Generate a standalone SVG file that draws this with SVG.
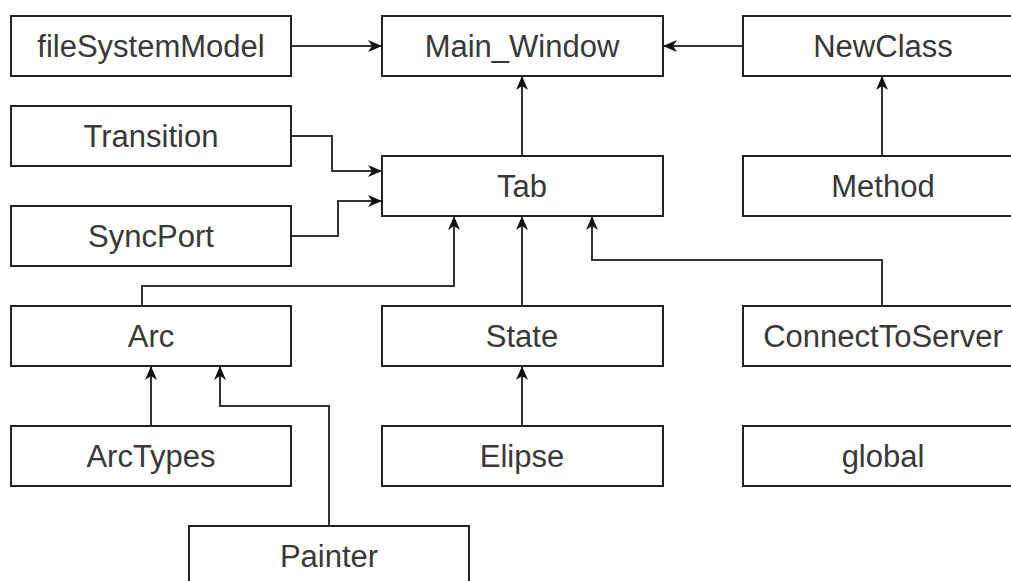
<svg xmlns="http://www.w3.org/2000/svg" width="1011" height="581" viewBox="0 0 1011 581">
<style>
.box rect{fill:#fff;stroke:#222;stroke-width:2}
.box text{font-family:"Liberation Sans",Arial,sans-serif;font-size:31px;fill:#383838;text-anchor:middle}
.edge{fill:none;stroke:#333;stroke-width:2;marker-end:url(#arr)}
</style>
<defs>
<marker id="arr" markerUnits="userSpaceOnUse" markerWidth="16" markerHeight="14" refX="15" refY="7" orient="auto">
<path d="M1,1 L15,7 L1,13 L5,7 Z" fill="#111"/>
</marker>
</defs>
<rect width="1011" height="581" fill="#fff"/>
<g id="connectors">
<path class="edge" d="M291,46 H382"/>
<path class="edge" d="M743,46 H663"/>
<path class="edge" d="M522,156 V76"/>
<path class="edge" d="M882,156 V76"/>
<path class="edge" d="M291,136 H332 V171 H382"/>
<path class="edge" d="M291,236 H338 V201 H382"/>
<path class="edge" d="M142,306 V286 H454 V216"/>
<path class="edge" d="M522,306 V216"/>
<path class="edge" d="M882,306 V260 H592 V216"/>
<path class="edge" d="M151,426 V366"/>
<path class="edge" d="M329,526 V406 H220 V366"/>
<path class="edge" d="M522,426 V366"/>
</g>
<g id="fileSystemModel" class="box"><rect x="11" y="16" width="280" height="60"/><text x="151" y="57">fileSystemModel</text></g>
<g id="Main_Window" class="box"><rect x="382" y="16" width="281" height="60"/><text x="522" y="57">Main_Window</text></g>
<g id="NewClass" class="box"><rect x="743" y="16" width="280" height="60"/><text x="883" y="57">NewClass</text></g>
<g id="Transition" class="box"><rect x="11" y="106" width="280" height="60"/><text x="151" y="147">Transition</text></g>
<g id="Tab" class="box"><rect x="382" y="156" width="281" height="60"/><text x="522" y="197">Tab</text></g>
<g id="Method" class="box"><rect x="743" y="156" width="280" height="60"/><text x="883" y="197">Method</text></g>
<g id="SyncPort" class="box"><rect x="11" y="206" width="280" height="60"/><text x="151" y="247">SyncPort</text></g>
<g id="Arc" class="box"><rect x="11" y="306" width="280" height="60"/><text x="151" y="347">Arc</text></g>
<g id="State" class="box"><rect x="382" y="306" width="281" height="60"/><text x="522" y="347">State</text></g>
<g id="ConnectToServer" class="box"><rect x="743" y="306" width="280" height="60"/><text x="883" y="347">ConnectToServer</text></g>
<g id="ArcTypes" class="box"><rect x="11" y="426" width="280" height="60"/><text x="151" y="467">ArcTypes</text></g>
<g id="Elipse" class="box"><rect x="382" y="426" width="281" height="60"/><text x="522" y="467">Elipse</text></g>
<g id="global" class="box"><rect x="743" y="426" width="280" height="60"/><text x="883" y="467">global</text></g>
<g id="Painter" class="box"><rect x="189" y="526" width="280" height="70"/><text x="329" y="567">Painter</text></g>
</svg>
